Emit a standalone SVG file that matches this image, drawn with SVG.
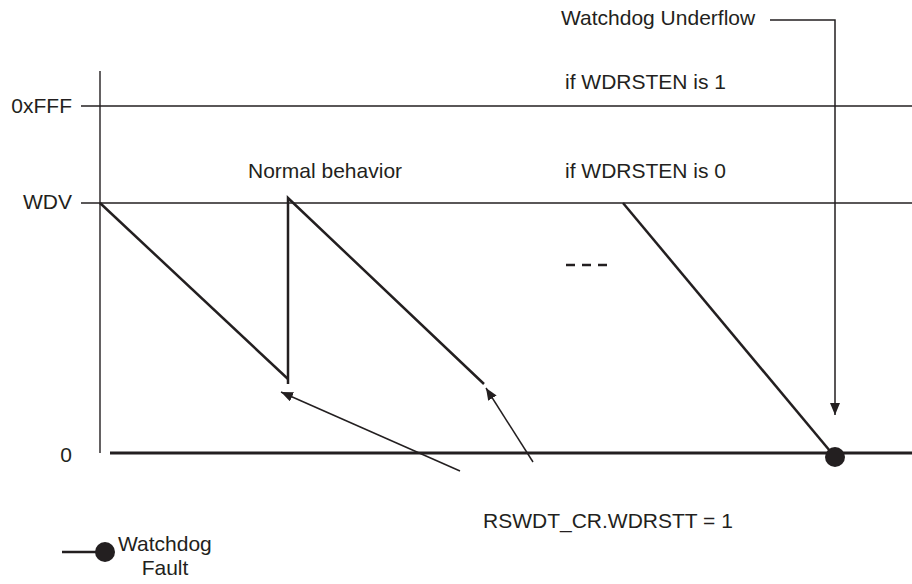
<svg xmlns="http://www.w3.org/2000/svg" width="912" height="584" viewBox="0 0 912 584">
<style>
text{font-family:"Liberation Sans",Arial,sans-serif;font-size:21px;fill:#231f20}
.thin{stroke:#231f20;stroke-width:1.4;fill:none}
.thick{stroke:#231f20;stroke-width:3;fill:none}
.saw{stroke:#231f20;stroke-width:2.5;fill:none}
.arr{stroke:#231f20;stroke-width:1.5;fill:none;marker-end:url(#ah)}
</style>
<defs>
<marker id="ah" markerWidth="12" markerHeight="10" refX="12" refY="5" orient="auto" markerUnits="userSpaceOnUse">
<path d="M0,0 L12,5 L0,10 Z" fill="#231f20"/>
</marker>
</defs>
<rect width="912" height="584" fill="#fff"/>
<g id="axes">
<line class="thin" x1="100" y1="71" x2="100" y2="453"/>
<line class="thin" x1="81" y1="106" x2="912" y2="106"/>
<line class="thin" x1="81" y1="203" x2="912" y2="203"/>
<line class="thick" x1="110" y1="453" x2="912" y2="453"/>
<text x="72" y="113" text-anchor="end">0xFFF</text>
<text x="72" y="209" text-anchor="end">WDV</text>
<text x="72" y="462" text-anchor="end">0</text>
</g>
<g id="labels">
<text x="561" y="25">Watchdog Underflow</text>
<text x="565" y="89">if WDRSTEN is 1</text>
<text x="248" y="178">Normal behavior</text>
<text x="565" y="178">if WDRSTEN is 0</text>
<text x="483" y="528">RSWDT_CR.WDRSTT = 1</text>
</g>
<g id="sawtooth">
<polyline class="saw" points="100,203 288,379"/>
<polyline class="saw" points="288,384 288,198 484,384"/>
<line class="saw" x1="623" y1="203" x2="830" y2="451"/>
<g id="ellipsis">
<line class="saw" x1="566" y1="265" x2="575" y2="265"/>
<line class="saw" x1="582" y1="265" x2="591" y2="265"/>
<line class="saw" x1="598" y1="265" x2="607" y2="265"/>
</g>
</g>
<g id="connectors">
<polyline class="arr" points="770,20 835,20 835,415"/>
<line class="arr" x1="460" y1="471" x2="281" y2="392"/>
<line class="arr" x1="533" y1="462" x2="486" y2="388"/>
</g>
<g id="underflow-point">
<circle cx="835" cy="457" r="10" fill="#231f20"/>
</g>
<g id="legend">
<line class="saw" x1="62" y1="552" x2="100" y2="552"/>
<circle cx="105" cy="552" r="10" fill="#231f20"/>
<text x="118" y="551">Watchdog</text>
<text x="165" y="575" text-anchor="middle">Fault</text>
</g>
</svg>
